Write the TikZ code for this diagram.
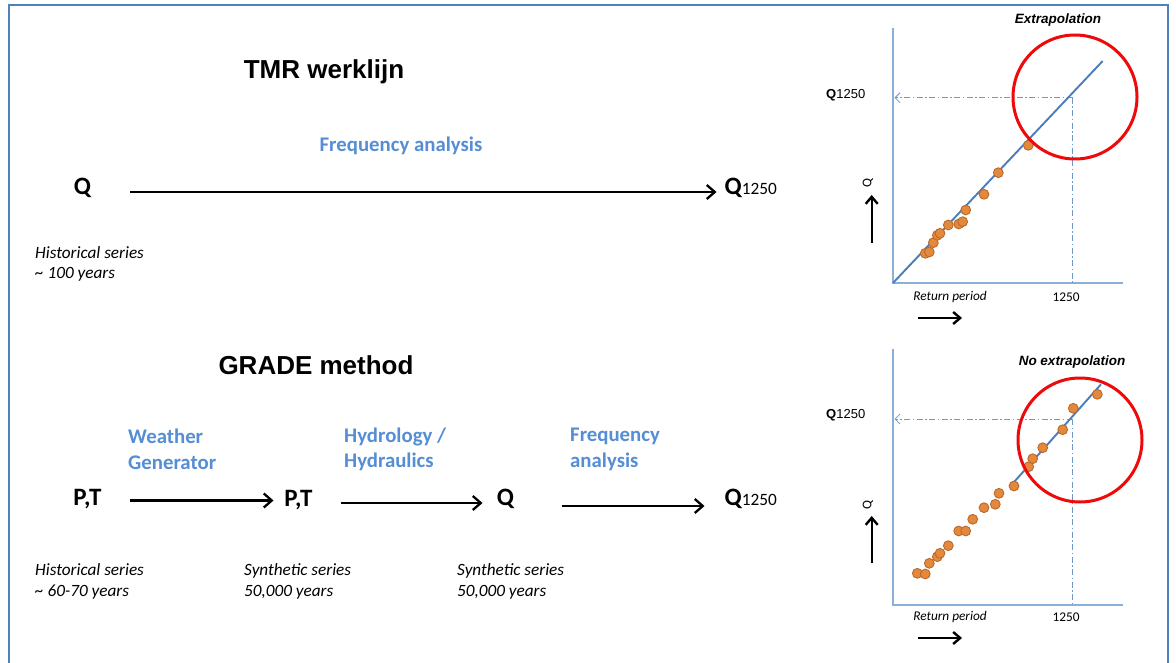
\documentclass[tikz,border=0pt]{standalone}
\usepackage{fontspec}
\setmainfont{Carlito}
\newfontfamily\arialf{Liberation Sans}
\usetikzlibrary{arrows.meta}
\definecolor{framecol}{RGB}{79,129,189}
\definecolor{lblue}{RGB}{85,142,213}
\definecolor{axiscol}{RGB}{140,175,218}
\definecolor{fitcol}{RGB}{74,126,187}
\definecolor{dotfill}{RGB}{228,137,60}
\definecolor{dotdraw}{RGB}{185,105,45}
\definecolor{redc}{RGB}{238,10,10}
\tikzset{
  frame/.style={draw=framecol, line width=2.6pt},
  title/.style={font=\arialf\bfseries\fontsize{26}{30}\selectfont, inner sep=0pt},
  sym/.style={font=\bfseries\fontsize{25}{28}\selectfont, inner sep=0pt},
  proc/.style={font=\bfseries\fontsize{20.8}{25.5}\selectfont, text=lblue, align=left, anchor=west, inner sep=0pt},
  note/.style={font=\itshape\fontsize{17.2}{20.5}\selectfont, align=left, anchor=west, inner sep=0pt},
  arr/.style={line width=2.3pt, -{Straight Barb[length=8pt,width=14pt]}},
  smallarr/.style={line width=2.4pt, -{Straight Barb[length=7pt,width=12pt]}},
  axis/.style={draw=axiscol, line width=1.1pt},
  fit/.style={draw=fitcol, line width=1.9pt},
  dd/.style={draw=fitcol!80!white, line width=0.8pt, dash pattern=on 6pt off 2.5pt on 1.5pt off 2.5pt},
  ddarr/.style={dd, -{Straight Barb[length=5pt,width=10pt,line width=0.8pt]}},
  dot/.style={fill=dotfill, draw=dotdraw, line width=0.9pt},
  ring/.style={draw=redc, line width=3pt},
  ctitle/.style={font=\arialf\bfseries\itshape\fontsize{13.5}{16}\selectfont, inner sep=0pt},
  cq/.style={font=\arialf\fontsize{13}{16}\selectfont, inner sep=0pt, anchor=west},
  clab/.style={font=\fontsize{13.3}{16}\selectfont, inner sep=0pt},
}
\begin{document}
\begin{tikzpicture}[x=1pt,y=-1pt]
\useasboundingbox (0,0) rectangle (1176,663);
\fill[white] (0,0) rectangle (1176,663);
\draw[frame] (9,663) -- (9,5) -- (1168,5) -- (1168,663);

% ---------- TMR werklijn ----------
\node[title] (t1) at (324,72) {TMR werklijn};
\node[proc, anchor=center] (fa1) at (401,146) {Frequency analysis};
\node[sym] (q1) at (82.5,188) {Q};
\node[sym, anchor=west] (q1250a) at (724.5,188) {Q{\mdseries\fontsize{17.3}{20}\selectfont 1250}};
\draw[arr, shorten <=39pt, shorten >=8pt] ([yshift=-4pt]q1.center -| q1.east) -- ([yshift=-4pt]q1.center -| q1250a.west);
\node[note] (h1) at (35,264) {Historical series\\\textasciitilde{} 100 years};

% ---------- GRADE method ----------
\node[title] (t2) at (316,365) {GRADE method};
\node[proc] (wg) at (128,449.5) {Weather\\Generator};
\node[proc] (hh) at (344,449.5) {Hydrology /\\Hydraulics};
\node[proc] (fa2) at (570,449.5) {Frequency\\analysis};
\node[sym] (pt1) at (87.5,499) {P,T};
\node[sym] (pt2) at (298.5,500.5) {P,T};
\node[sym] (q2) at (505.5,499) {Q};
\node[sym, anchor=west] (q1250b) at (724.5,499) {Q{\mdseries\fontsize{17.3}{20}\selectfont 1250}};
\draw[arr, shorten <=42.5pt, shorten >=25pt] ([yshift=-1.5pt]pt1.center) -- ([yshift=-1.5pt]pt1.center -| pt2.center);
\draw[arr, shorten <=42pt, shorten >=23pt] ([yshift=-2.5pt]pt2.center) -- ([yshift=-2.5pt]pt2.center -| q2.center);
\draw[arr, shorten <=56pt, shorten >=20pt] ([yshift=-7pt]q2.center) -- ([yshift=-7pt]q2.center -| q1250b.west);
\node[note] (h2) at (35,581.5) {Historical series\\\textasciitilde{} 60-70 years};
\node[note] (s1) at (244,581.5) {Synthetic series\\50,000 years};
\node[note] (s2) at (457,581.5) {Synthetic series\\50,000 years};

% ---------- Chart 1: Extrapolation ----------
\draw[axis] (893,28) -- (893,283) -- (1123,283);
\draw[ddarr] (1072.7,97.7) -- (894.5,97.7);
\draw[dd] (1072.7,97.7) -- (1072.7,283);
\draw[fit] (893,283) -- (1102.7,61);
\foreach \px/\py in {925.3/253.3,929.3/252,933.3/242.7,937.3/235.3,940/233.3,948.3/225,958.7/224,962.7/221.7,965.7/210,984/194.3,998.3/172.7,1028.3/145.3}
  \draw[dot] (\px,\py) circle[radius=4.9pt];
\draw[ring] (1075,97) circle[radius=62pt];
\node[ctitle] (c1t) at (1058,20) {Extrapolation};
\node[cq] (c1q) at (826,95) {\textbf{Q}1250};
\node[clab, rotate=90] (c1y) at (868,183) {Q};
\node[clab, font=\itshape\fontsize{13.3}{16}\selectfont] (c1x) at (950,297) {Return period};
\node[clab] (c1n) at (1066,297) {1250};
\draw[smallarr] (871.7,243) -- (871.7,195);
\draw[smallarr] (918,318) -- (962,318);

% ---------- Chart 2: No extrapolation ----------
\draw[axis] (893,349) -- (893,605) -- (1123,605);
\draw[ddarr] (1072.7,419) -- (894.5,419);
\draw[dd] (1072.7,419) -- (1072.7,605);
\draw[fit] (1012.3,484) -- (1101,384.3);
\foreach \px/\py in {917.3/573.3,925.3/574,929.3/563.3,937.3/556.7,940/553.3,948.3/545.7,958.7/531,965.7/531,972.7/519.3,984/507.7,995.3/504.3,999/493.3,1014/486,1028.7/466.7,1032.7/458.7,1042.7/447.7,1062.7/429.7,1073.3/408.3,1097.3/394.3}
  \draw[dot] (\px,\py) circle[radius=4.9pt];
\draw[ring] (1080,440) circle[radius=62pt];
\node[ctitle] (c2t) at (1072,362) {No extrapolation};
\node[cq] (c2q) at (826,415) {\textbf{Q}1250};
\node[clab, rotate=90] (c2y) at (868,505) {Q};
\node[clab, font=\itshape\fontsize{13.3}{16}\selectfont] (c2x) at (950,617) {Return period};
\node[clab] (c2n) at (1066,617) {1250};
\draw[smallarr] (871.7,563) -- (871.7,516);
\draw[smallarr] (918,638) -- (962,638);
\end{tikzpicture}
\end{document}
